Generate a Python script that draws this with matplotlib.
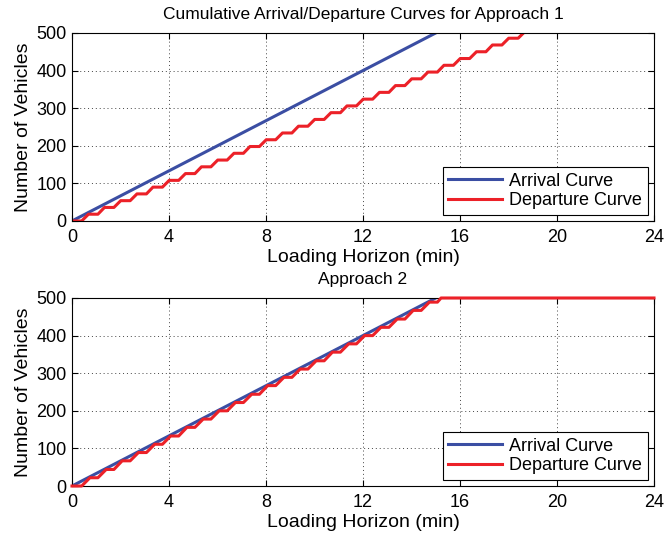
import numpy as np
import matplotlib
matplotlib.use("Agg")
from matplotlib import pyplot as plt

plt.rcParams["font.family"] = ["Liberation Sans", "DejaVu Sans"]
plt.rcParams["font.size"] = 13

# arrival curve (same for both approaches)
arr_t = [0, 15]
arr_n = [0, 500]

# departures: start/end time of each discharge ramp and the level reached
green_start = [0.40, 1.07, 1.73, 2.40, 3.07, 3.73, 4.40, 5.07, 5.73, 6.40,
               7.07, 7.73, 8.40, 9.07, 9.73, 10.40, 11.07, 11.73, 12.40, 13.07,
               13.73, 14.40, 15.07, 15.73, 16.40, 17.07, 17.73, 18.40]
dep1_end = [0.68, 1.34, 2.01, 2.68, 3.34, 4.01, 4.68, 5.34, 6.01, 6.68,
            7.34, 8.01, 8.68, 9.34, 10.01, 10.68, 11.34, 12.01, 12.68, 13.34,
            14.01, 14.68, 15.34, 16.01, 16.68, 17.34, 18.01, 18.62]
dep1_level = [18, 36, 54, 72, 90, 108, 126, 144, 162, 180,
              198, 216, 234, 252, 270, 288, 306, 324, 342, 360,
              378, 396, 414, 432, 450, 468, 486, 500]

dep2_end = [0.74, 1.41, 2.07, 2.74, 3.41, 4.07, 4.74, 5.41, 6.07, 6.74,
            7.41, 8.07, 8.74, 9.41, 10.07, 10.74, 11.41, 12.07, 12.74, 13.41,
            14.07, 14.74, 15.22]
dep2_level = [22, 44, 67, 89, 111, 133, 156, 178, 200, 222,
              244, 267, 289, 311, 333, 356, 378, 400, 422, 444,
              467, 489, 500]
t_end = 24


def stair(starts, ends, levels, extend=True):
    # build the departure polyline: flat, ramp, flat, ramp ...
    t, n = [0], [0]
    prev = 0
    for s, e, lv in zip(starts, ends, levels):
        t += [s, e]
        n += [prev, lv]
        prev = lv
    if extend:
        t.append(t_end)
        n.append(prev)
    return t, n


blue = "#3b4ea3"
red = "#ec2128"

fig = plt.figure(figsize=(6.64, 5.42), dpi=100)
ax1 = fig.add_axes([0.1084, 0.5923, 0.8765, 0.3469])
ax2 = fig.add_axes([0.1084, 0.1033, 0.8765, 0.3469])

curves = [
    (ax1, stair(green_start, dep1_end, dep1_level, extend=False),
     "Cumulative Arrival/Departure Curves for Approach 1", True),
    (ax2, stair(green_start[:len(dep2_end)], dep2_end, dep2_level),
     "Approach 2", False),
]

for ax, (dt, dn), title, clip in curves:
    ax.plot(arr_t, arr_n, color=blue, lw=2.2, label="Arrival Curve")
    ax.plot(dt, dn, color=red, lw=2.2, label="Departure Curve",
            clip_on=clip, zorder=2 if clip else 3)
    ax.set_xlim(0, 24)
    ax.set_ylim(0, 500)
    ax.set_xticks(np.arange(0, 25, 4))
    ax.set_yticks(np.arange(0, 501, 100))
    ax.grid(True, linestyle=(0, (1, 3)), color="#444444", linewidth=0.7)
    ax.tick_params(direction="in", top=True, right=True, length=4, labelsize=13)
    ax.tick_params(axis="x", pad=6)
    ax.tick_params(axis="y", pad=4)
    for sp in ax.spines.values():
        sp.set_linewidth(0.8)
    ax.set_xlabel("Loading Horizon (min)", fontsize=14, labelpad=2)
    ax.set_ylabel("Number of Vehicles", fontsize=14, labelpad=3)
    ax.set_title(title, fontsize=12.5, pad=10)
    leg = ax.legend(loc="lower right", fancybox=False, edgecolor="black",
                    framealpha=1, handlelength=3.0, borderaxespad=0.35,
                    labelspacing=0.15, borderpad=0.3, handletextpad=0.4, fontsize=13)
    leg.get_frame().set_linewidth(0.8)

fig.savefig("out.png", dpi=100)
